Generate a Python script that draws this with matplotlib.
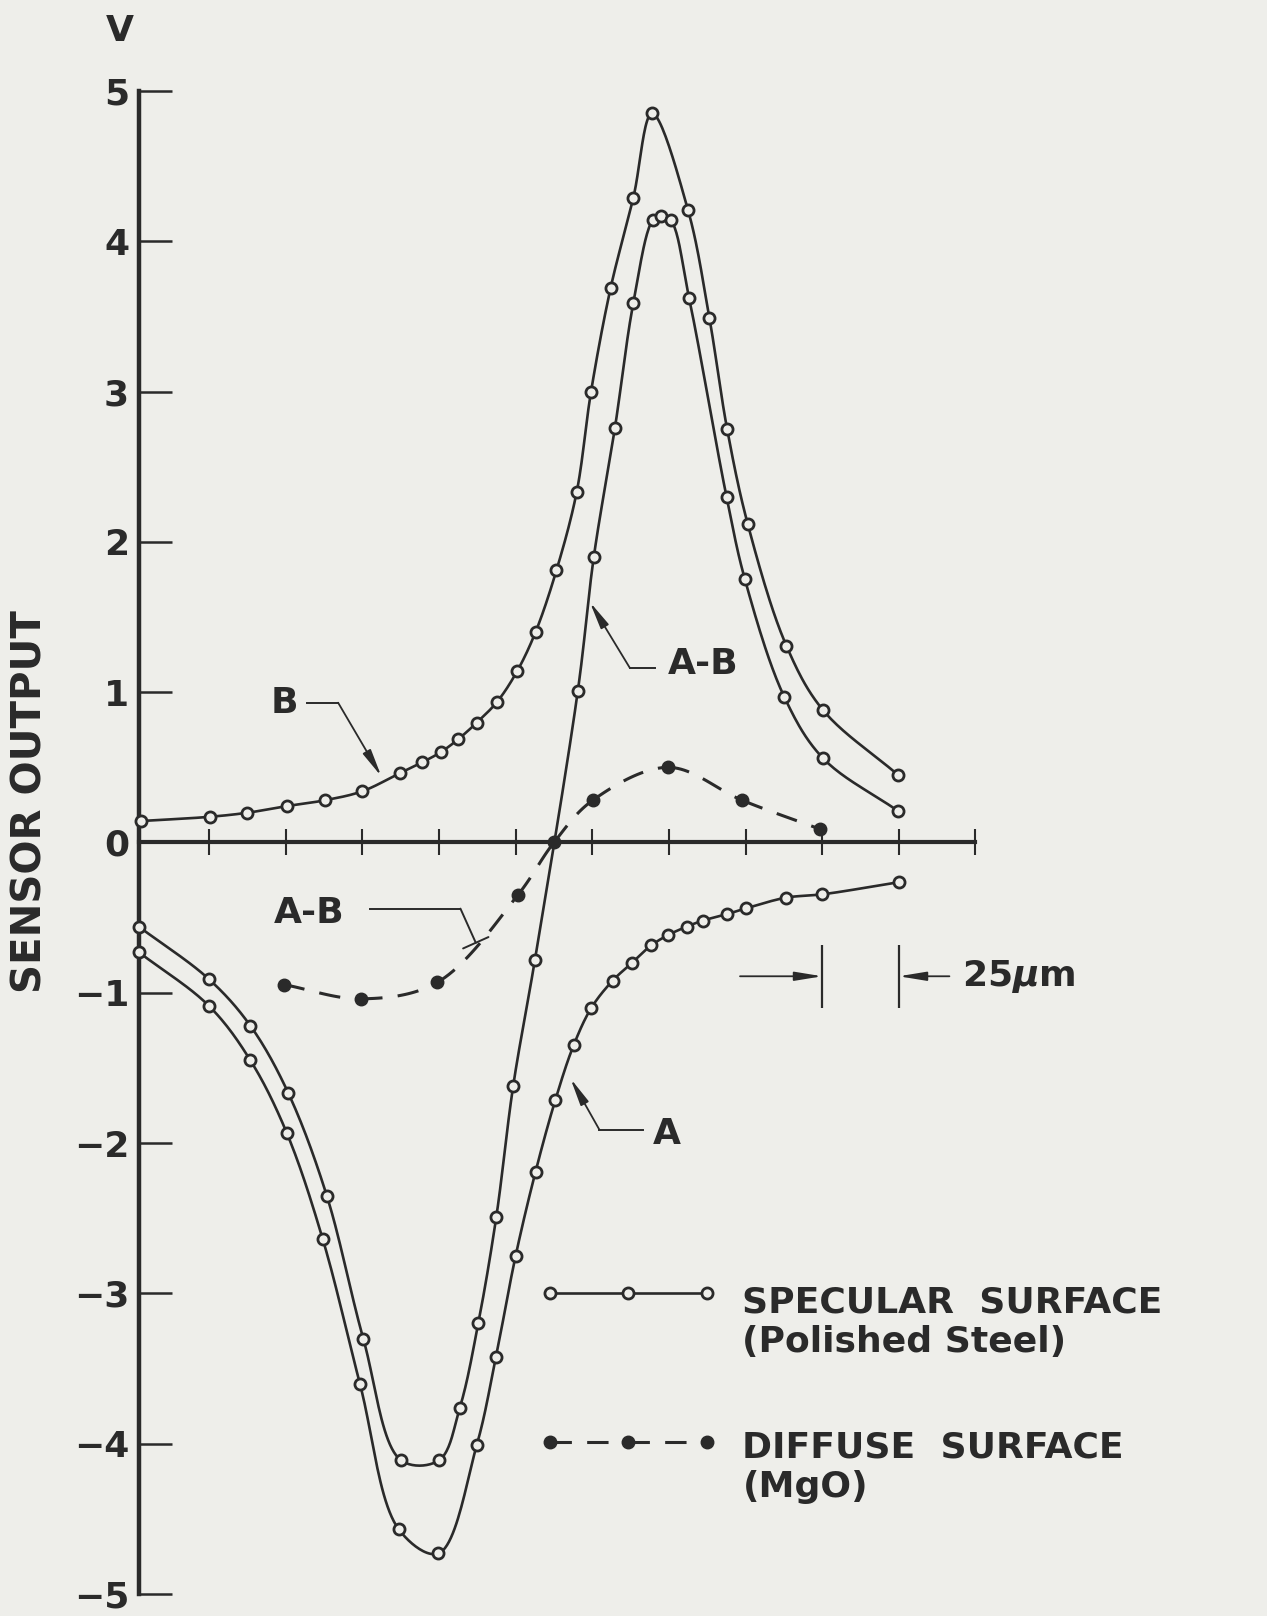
import numpy as np
import matplotlib
matplotlib.use('Agg')
import matplotlib.pyplot as plt

# sensor output (V) against position (um)
b_x = [2.9, 25.3, 37.5, 50.3, 62.8, 75.0, 87.2, 94.6, 100.8, 106.2, 112.3, 119.0, 125.5,
       131.5, 138.3, 144.9, 149.6, 156.0, 163.4, 169.5, 181.2, 188.2, 194.0, 200.7, 213.3,
       225.3, 249.7]
b_y = [0.143, 0.171, 0.198, 0.242, 0.281, 0.341, 0.461, 0.534, 0.604, 0.686, 0.797, 0.937, 1.14,
       1.40, 1.81, 2.33, 3.00, 3.69, 4.29, 4.85, 4.21, 3.49, 2.75, 2.12, 1.31,
       0.88, 0.45]

a_x = [2.1, 25.0, 38.5, 50.3, 62.1, 74.2, 86.9, 99.8, 112.3, 118.6, 125.0, 131.5, 138.0,
       143.9, 149.7, 156.6, 163.0, 169.2, 174.8, 180.8, 186.0, 193.9, 200.0, 213.2, 225.0, 250.0]
a_y = [-0.73, -1.088, -1.45, -1.93, -2.64, -3.60, -4.57, -4.73, -4.01, -3.42, -2.75, -2.19, -1.71,
       -1.35, -1.10, -0.92, -0.80, -0.685, -0.615, -0.56, -0.52, -0.477, -0.439, -0.367, -0.345, -0.264]

ab_x = [2.1, 25.0, 38.5, 50.8, 63.4, 75.3, 87.6, 100.0, 106.8, 112.8, 118.7, 124.2, 131.3,
        145.3, 150.5, 157.4, 163.4, 169.7, 172.3, 175.6, 181.6, 193.8, 199.8, 212.6, 225.3, 249.7]
ab_y = [-0.56, -0.91, -1.22, -1.665, -2.35, -3.30, -4.11, -4.11, -3.76, -3.20, -2.49, -1.62, -0.78,
        1.01, 1.90, 2.76, 3.59, 4.14, 4.17, 4.14, 3.62, 2.30, 1.75, 0.97, 0.56, 0.21]

# diffuse surface (MgO), A-B
diff_x = [49.3, 74.6, 99.5, 125.7, 137.5, 150.1, 174.8, 199.0, 224.4]
diff_y = [-0.945, -1.04, -0.93, -0.35, 0.0, 0.28, 0.50, 0.28, 0.088]

y_ticks = list(range(-5, 6))
x_ticks = np.arange(25, 276, 25)
scale_bar = (225, 250)

ink = '#2a2a2a'
bg = '#eeeeea'


def smooth(x, y, n=24):
    # centripetal catmull-rom through the points (in pixel-ish units), one piece per gap
    sx, sy = 3.07, 151.0
    p = np.column_stack([np.asarray(x) * sx, np.asarray(y) * sy])
    p = np.vstack([2 * p[0] - p[1], p, 2 * p[-1] - p[-2]])
    pieces = []
    for i in range(1, len(p) - 2):
        p0, p1, p2, p3 = p[i - 1], p[i], p[i + 1], p[i + 2]
        t0 = 0.0
        t1 = t0 + np.linalg.norm(p1 - p0) ** 0.5
        t2 = t1 + np.linalg.norm(p2 - p1) ** 0.5
        t3 = t2 + np.linalg.norm(p3 - p2) ** 0.5
        t = np.linspace(t1, t2, n)[:, None]
        a1 = (t1 - t) / (t1 - t0) * p0 + (t - t0) / (t1 - t0) * p1
        a2 = (t2 - t) / (t2 - t1) * p1 + (t - t1) / (t2 - t1) * p2
        a3 = (t3 - t) / (t3 - t2) * p2 + (t - t2) / (t3 - t2) * p3
        b1 = (t2 - t) / (t2 - t0) * a1 + (t - t0) / (t2 - t0) * a2
        b2 = (t3 - t) / (t3 - t1) * a2 + (t - t1) / (t3 - t1) * a3
        c = (t2 - t) / (t2 - t1) * b1 + (t - t1) / (t2 - t1) * b2
        pieces.append(c / [sx, sy])
    return pieces


plt.rcParams['font.family'] = ['DejaVu Sans']
plt.rcParams['font.weight'] = 'bold'
fs = 26

fig = plt.figure(figsize=(12.67, 16.16), dpi=100, facecolor=bg)
ax = fig.add_axes([0, 0, 1, 1])
ax.set_facecolor(bg)
ax.set_xlim(-43.2, 370.1)
ax.set_ylim(-5.146, 5.605)

# specular surface curves
for xs, ys in [(b_x, b_y), (a_x, a_y), (ab_x, ab_y)]:
    curve = np.vstack(smooth(xs, ys))
    ax.plot(curve[:, 0], curve[:, 1], color=ink, lw=1.9, zorder=3)
    ax.plot(xs, ys, 'o', ms=8, mfc=bg, mec=ink, mew=2, zorder=4)

# diffuse surface, dashes restart at every point
for piece in smooth(diff_x, diff_y):
    ax.plot(piece[:, 0], piece[:, 1], color=ink, lw=2.2, ls=(0, (7, 5)), zorder=3)
ax.plot(diff_x, diff_y, 'o', ms=9, color=ink, zorder=4)

# axes
for s in ['top', 'right']:
    ax.spines[s].set_visible(False)
ax.spines['left'].set_position(('data', 2.1))
ax.spines['left'].set_bounds(-5, 5)
ax.spines['left'].set_linewidth(3.2)
ax.spines['bottom'].set_position(('data', 0))
ax.spines['bottom'].set_bounds(2.1, 275)
ax.spines['bottom'].set_linewidth(3)
for s in ['left', 'bottom']:
    ax.spines[s].set_color(ink)
ax.set_xticks(x_ticks)
ax.set_xticklabels([])
ax.tick_params(axis='x', direction='inout', length=19, width=1.5, color=ink)
ax.set_yticks(y_ticks)
ax.tick_params(axis='y', direction='in', length=24, width=1.8, pad=7, color=ink,
               labelsize=fs, labelcolor=ink)

ax.text(-33.4, 0.27, 'SENSOR OUTPUT', rotation=90, ha='center', va='center', fontsize=29, color=ink)
ax.text(-4.2, 5.40, 'V', ha='center', va='center', fontsize=fs, color=ink)

# curve labels with leaders
arrow = dict(arrowstyle='-|>,head_length=0.55,head_width=0.09', lw=1.3, color=ink,
             mutation_scale=30, shrinkA=0, shrinkB=0)
ax.text(49.7, 0.93, 'B', ha='center', va='center', fontsize=fs, color=ink)
ax.plot([56.8, 67.1], [0.93, 0.93], color=ink, lw=1.4)
ax.annotate('', xy=(81.2, 0.44), xytext=(67.1, 0.93), arrowprops=arrow)

ax.text(186.2, 1.19, 'A-B', ha='center', va='center', fontsize=fs, color=ink)
ax.plot([170.4, 162.3], [1.16, 1.16], color=ink, lw=1.4)
ax.annotate('', xy=(149.2, 1.60), xytext=(162.3, 1.16), arrowprops=arrow)

ax.text(57.7, -0.47, 'A-B', ha='center', va='center', fontsize=fs, color=ink)
ax.plot([77.4, 107.0], [-0.44, -0.44], color=ink, lw=1.4)
ax.annotate('', xy=(112.0, -0.667), xytext=(107.0, -0.44),
            arrowprops=dict(arrowstyle='-[,widthB=0.5,lengthB=0', lw=1.4, color=ink,
                            mutation_scale=20, shrinkA=0, shrinkB=0))

ax.text(174.3, -1.94, 'A', ha='center', va='center', fontsize=fs, color=ink)
ax.plot([166.4, 152.3], [-1.91, -1.91], color=ink, lw=1.4)
ax.annotate('', xy=(142.9, -1.57), xytext=(152.3, -1.91), arrowprops=arrow)

# 25 um scale mark
ax.vlines(scale_bar, -1.10, -0.68, color=ink, lw=1.6)
ax.annotate('', xy=(scale_bar[0], -0.89), xytext=(198.2, -0.89), arrowprops=arrow)
ax.annotate('', xy=(scale_bar[1], -0.89), xytext=(266.5, -0.89), arrowprops=arrow)
ax.text(270.5, -0.89, r'25$\mu$m', ha='left', va='center', fontsize=fs, color=ink)

# key
key_x = [136.3, 161.8, 187.3]
ax.plot(key_x, [-3.0] * 3, '-o', color=ink, lw=1.9, ms=8, mfc=bg, mec=ink, mew=2)
for i in range(2):
    ax.plot(key_x[i:i + 2], [-3.99] * 2, color=ink, lw=2.2, ls=(0, (7, 5)))
ax.plot(key_x, [-3.99] * 3, 'o', ms=9, color=ink)
ax.text(199, -3.19, 'SPECULAR  SURFACE\n(Polished Steel)', ha='left', va='center',
        fontsize=fs, color=ink, linespacing=1.22)
ax.text(199, -4.155, 'DIFFUSE  SURFACE\n(MgO)', ha='left', va='center',
        fontsize=fs, color=ink, linespacing=1.22)

fig.savefig('out.png', dpi=100, facecolor=bg)
